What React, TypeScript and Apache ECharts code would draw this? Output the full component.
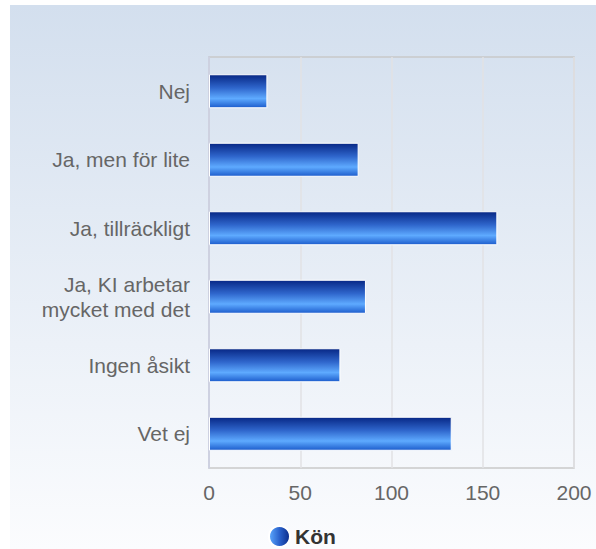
import React, { useEffect, useRef } from "react";
import * as echarts from "echarts";

const categories = [
  "Nej",
  "Ja, men för lite",
  "Ja, tillräckligt",
  "Ja, KI arbetar\nmycket med det",
  "Ingen åsikt",
  "Vet ej",
];
const values = [32, 82, 158, 86, 72, 133];
const seriesName = "Kön";
const xTicks = { min: 0, max: 200, interval: 50 };

export default function App() {
  const ref = useRef<HTMLDivElement>(null);
  useEffect(() => {
    if (!ref.current) return;
    const chart = echarts.init(ref.current, undefined, { renderer: "svg" });
    const barGradient = new echarts.graphic.LinearGradient(0, 0, 0, 1, [
      { offset: 0, color: "#072785" },
      { offset: 0.4, color: "#2f66cc" },
      { offset: 0.72, color: "#5eaaff" },
      { offset: 1, color: "#1c5ccc" },
    ]);
    const legendGradient = new echarts.graphic.LinearGradient(0, 0, 1, 0, [
      { offset: 0, color: "#5eaaff" },
      { offset: 0.5, color: "#2a62cc" },
      { offset: 1, color: "#0a2a88" },
    ]);
    chart.setOption({
      animation: false,
      textStyle: { fontFamily: "Liberation Sans, Arial, sans-serif" },
      grid: { left: 199, right: 22, top: 52, bottom: 81, show: true, borderColor: "#c9c9c9", borderWidth: 1.5, backgroundColor: "transparent" },
      legend: {
        left: 253,
        top: 515,
        icon: "circle",
        itemWidth: 21,
        itemHeight: 21,
        itemGap: 6,
        textStyle: { fontSize: 21, fontWeight: "bold", color: "#333" },
        data: [{ name: seriesName, itemStyle: { color: legendGradient } }],
      },
      xAxis: {
        type: "value",
        min: xTicks.min,
        max: xTicks.max,
        interval: xTicks.interval,
        axisLine: { show: false },
        axisTick: { show: false },
        axisLabel: { color: "#666", fontSize: 21, margin: 14 },
        splitLine: { lineStyle: { color: "#e2e2e4", width: 1.5 } },
      },
      yAxis: {
        type: "category",
        inverse: true,
        data: categories,
        axisLine: { show: true, lineStyle: { color: "#c8cce0", width: 1.5 } },
        axisTick: { show: false },
        axisLabel: { color: "#666", fontSize: 21, margin: 19, lineHeight: 25, align: "right" },
      },
      series: [
        {
          name: seriesName,
          type: "bar",
          data: values,
          barWidth: 34,
          itemStyle: { color: barGradient, borderColor: "#ffffff", borderWidth: 1 },
        },
      ],
    });
    return () => chart.dispose();
  }, []);
  return (
    <div
      ref={ref}
      style={{
        position: "absolute",
        left: 10,
        top: 5,
        width: 586,
        height: 544,
        background: "linear-gradient(#d3dfee, #fbfcfe)",
      }}
    />
  );
}
